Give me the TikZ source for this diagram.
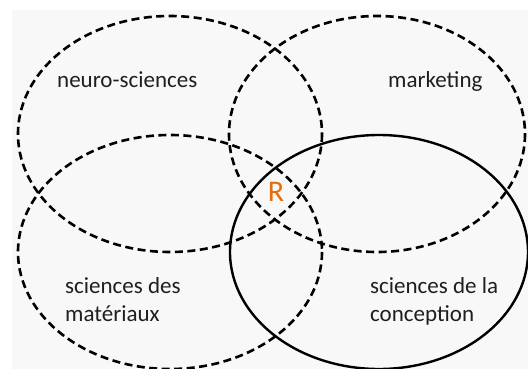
\documentclass[tikz,border=0pt]{standalone}
\usepackage{fontspec}
\setmainfont{Carlito}
\definecolor{bgray}{HTML}{F8F8F8}
\definecolor{rorange}{HTML}{E46C0A}
\begin{document}
\begin{tikzpicture}[x=1pt,y=-1pt,
		field/.style={line width=2.6pt,dash pattern=on 8pt off 4.5pt},
		design/.style={line width=2.4pt},
		label/.style={inner sep=0pt,anchor=base west,font=\fontsize{23}{28}\selectfont,text=black!88,align=left}]
		\useasboundingbox (0,0) rectangle (528,369);
		\fill [white] (0,0) rectangle (528,369);
		\fill [bgray] (12,10) rectangle (528,369);
		\clip (0,0) rectangle (528,369);
		\draw [field] (170,134) ellipse [x radius=152,y radius=118];
		\draw [field] (377,134) ellipse [x radius=148,y radius=118];
		\draw [field] (170,252) ellipse [x radius=152,y radius=117];
		\draw [design] (379,252) ellipse [x radius=149,y radius=117];
		\node (neuro) [label] at (57,88) {neuro-sciences};
		\node (marketing) [label] at (388,88) {marketing};
		\node (materiaux) [label] at (65,321) {sciences des\\matériaux};
		\node (conception) [label] at (370,321) {sciences de la\\conception};
		\node (r) [inner sep=0pt,font=\fontsize{30}{30}\selectfont,text=rorange] at (276,192) {R};
	\end{tikzpicture}
\end{document}
